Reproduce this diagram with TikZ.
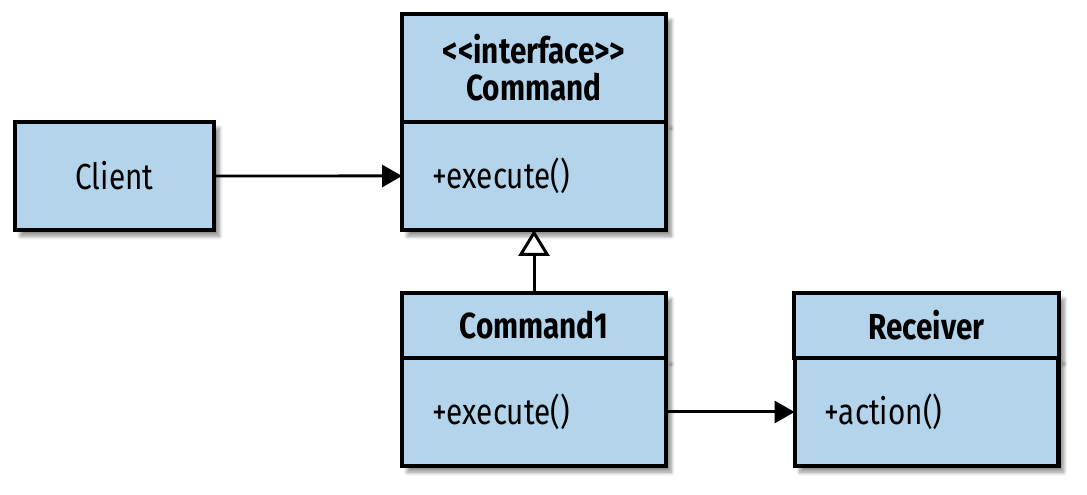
\documentclass[tikz,border=0pt]{standalone}
\usepackage{fontspec}
\setmainfont{Fira Sans}[FakeStretch=0.82]
\usepackage{tikz}
\usetikzlibrary{arrows.meta,positioning,shadows.blur}
\definecolor{umlblue}{RGB}{179,212,234}

\begin{document}
\begin{tikzpicture}[x=0.02cm,y=-0.02cm,
	box/.style={draw, line width=2.3pt, fill=umlblue, outer sep=0pt,
		blur shadow={shadow xshift=3pt, shadow yshift=-3.5pt, shadow blur steps=8, shadow opacity=45},
		font=\fontsize{20.6pt}{21pt}\selectfont},
	head/.style={box, minimum width=5.28cm, align=center, font=\fontsize{20.6pt}{21pt}\selectfont\bfseries},
	body/.style={box, minimum height=2.16cm, text width=4.08cm, inner xsep=0.6cm, align=left},
	conn/.style={line width=1.7pt}]
	\useasboundingbox (0,0) rectangle (1087,494);
	\node[box, minimum width=3.98cm, minimum height=2.16cm] (client) at (114.5,176) {Client};
	\node[head, minimum height=2.16cm] (cmdhead) at (534,68) {{<}{<}interface{>}{>}\\Command};
	\node[body, below=0pt of cmdhead] (cmdbody) {+execute()};
	\node[head, minimum height=1.3cm] (c1head) at (534,325.5) {Command1};
	\node[body, below=0pt of c1head] (c1body) {+execute()};
	\node[head, minimum width=5.3cm, minimum height=1.3cm] (rechead) at (926.5,325.5) {Receiver};
	\node[body, below=0pt of rechead] (recbody) {+action()};
	\draw[conn, -{Triangle[length=0.4cm, width=0.44cm]}] (client) -- (cmdbody);
	\draw[conn, -{Triangle[open, fill=white, length=0.52cm, width=0.62cm, line width=1.7pt]}] (c1head) -- (cmdbody);
	\draw[conn, -{Triangle[length=0.4cm, width=0.44cm]}] (c1body) -- (recbody);
\end{tikzpicture}
\end{document}
